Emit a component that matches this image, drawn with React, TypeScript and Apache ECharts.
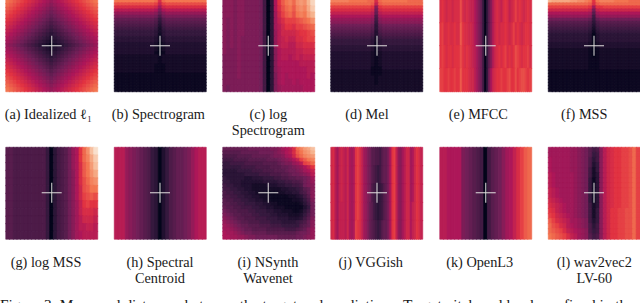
import React, { useEffect, useRef } from "react";
import * as echarts from "echarts";

// Heat levels, one character per cell (0-9 then a-z = level 0..35).
const idealized = [
  "ponmlkjihgfedefghijklmnop","onmlkjihgfedcdefghijklmno","nmlkjihgfedcbcdefghijklmn","mlkjihgfedcbabcdefghijklm",
  "lkjihgfedcba9abcdefghijkl","kjihgfedcba989abcdefghijk","jihgfedcba98789abcdefghij","ihgfedcba9876789abcdefghi",
  "hgfedcba987656789abcdefgh","gfedcba98765456789abcdefg","fedcba9876543456789abcdef","edcba987654323456789abcde",
  "dcba98765432023456789abcd",
  "edcba987654323456789abcde","fedcba9876543456789abcdef","gfedcba98765456789abcdefg","hgfedcba987656789abcdefgh",
  "ihgfedcba9876789abcdefghi","jihgfedcba98789abcdefghij","kjihgfedcba989abcdefghijk","lkjihgfedcba9abcdefghijkl",
  "mlkjihgfedcbabcdefghijklm","nmlkjihgfedcbcdefghijklmn","onmlkjihgfedcdefghijklmno","ponmlkjihgfedefghijklmnop",
];
const spectrogram = [
  "pppppppppppojoppppppppppp","mmmmmmmmmmmlhlmmmmmmmmmmm","jjjjjjjjjjjieijjjjjjjjjjj","gggggggggggfbfggggggggggg",
  "dddddddddddc9cddddddddddd","bbbbbbbbbbba7abbbbbbbbbbb","9999999999985899999999999","8888888888874788888888888",
  "7777777777763677777777777","6666666666652566666666666","5555555555542455555555555","5555555555541455555555555",
  "4444444444431344444444444","4444444444431344444444444","3333333333320233333333333","3333333333320233333333333",
  "3333333333320233333333333","3333333333310133333333333","2222222222221222222222222","2222222222221222222222222",
  "2222222222221222222222222","2222222222211122222222222","2222222222211122222222222","2222222222211122222222222",
  "1111111111111111111111111","1111111111111111111111111","1111111111111111111111111","1111111111111111111111111",
  "1111111111111111111111111","1111111111111111111111111",
];
const logSpectrogram = [
  "cccbccbbbba604fknpqorsrux","cccbccbbbba604fjmopnqrqtw","cccbccbbbba604eilnompqpsu","cbcbccbbbba604ehjlllmnopr",
  "cbcbccbbbba604egikkjllmno","cbcbccbbbba604dgiiiijkklm","cbcbcbbbbba604dghihhjjkll","cbcbcbbbbba604dghhggiijjj",
  "cbbbcbbbbba604cfgggghhiii","bbbbcbbbbba604cfggfghghhh","bbbbcbbbbba604cffffffgggg","bbbbcbbbbba604cefffffffgg",
  "bbbbcbbbbba604befefffffgf","bbbbbbbbbba604befeefeffff","babbbbbbbba604bdeeeeeefff",
];
const mel = [
  "qqqqqpppppoojopppppppoooo","ooooooooooonhnooooooooooo","lllllllllllkcklllllllllll","jjjjjjjjjjjiaijjjjjjjjjjj",
  "hhhhhhhhhhhg9ghhhhhhhhhhh","fffffffffffe7efffffffffff","dddddddddddc6cddddddddddd","cccccccccccb5bccccccccccc",
  "aaaaaaaaaaa949aaaaaaaaaaa","9999999999984899999999999","8888888888873788888888888","7777777777763677777777777",
  "6666666666652566666666666","5555555555542455555555555","5555555555541455555555555","4444444444431344444444444",
  "4444444444431344444444444","3333333333321233333333333","3333333333321233333333333","3333333333321233333333333",
  "3333333333321233333333333","3333333333321233333333333","3333333333311133333333333","2222222222211122222222222",
  "2222222222211122222222222","2222222222221222222222222","2222222222221222222222222","2222222222221222222222222",
  "2222222222222222222222222","2222222222222222222222222",
];
const mfcc = [
  "jkjijjijjjmjijihhfdb95059cgijihjkjhijljkjijkj",
  "kljjkjjkjjnkjjiihfdb95059cgijijjkjijljkjijkkj",
  "klkjkkjkkkmkjkjihgeca6059cgijkjkljkjkmlkjkklj",
  "llkklkklkknkkkjiigeca605bfijkklkklmkkmklmmlkl",
];
const mss = [
  "utttttssrrqpkpqqqqppppooo","ooooooooooonjnooooooooooo","lllllllllllkekkllllllllll","iiiiiiiiiiihahiiiiiiiiiii",
  "fffffffffffe8efffffffffff","dddddddddddc6cddddddddddd","aaaaaaaaaaa959aaaaaaaaaaa","8888888888874788888888888",
  "7777777777763677777777777","6666666666652566666666666","5555555555541455555555555","4444444444430344444444444",
  "4444444444430344444444444","4444444444430344444444444","3333333333320233333333333","3333333333320233333333333",
  "2222222222210122222222222","2222222222210122222222222","2222222222210122222222222","2222222222211122222222222",
  "2222222222211122222222222","2222222222211122222222222","2222222222211122222222222","1111111111111111111111111",
  "1111111111111111111111111","1111111111111111111111111","1111111111111111111111111","1111111111111111111111111",
  "1111111111111111111111111","1111111111111111111111111",
];
const logMss = [
  "88777777777504678adfkorvy","88777777777504678adfkoqtw","88777777777504678adfjnpsv","88777777777504678acfjnprt",
  "88777777777504678acfjmoqr","88777777777504678acfimnpp","88777777777504678acfilmnm","88777777777504678acehklkk",
  "88777777777504678acehjjji","88777777777504678acegiiih","88777777777504678acegghhg","88777777777504678acefgggg",
];
const centroid = ["gggdcba987540357899abdfgg"];
const nsynth = [
  "9999999aaaaaabbcefgjoqstv","8888899999aaaabcdfgjnprsu","7777888899999abbcefimoqrs","666777788888999abcdfhlnpq",
  "5566667777788889abbdeglmo","555556666777788899abcdfhk","444455556667778889aabcefh","4444445555666777889aabcdg",
  "5444443344455566778899abe","5544433333344445566778abd","6554433322223334455667abc","665544332222222233445689c",
  "766554433222111223344679c","776655443322211111223468c","877665544332211111122357b","887766555443322111111246a",
  "988776665544332221111135a","a98877766555443322211246a","ba9887776655544333222357a","cba988777666555444333468b",
  "dcba98877766655544445679c","edcba9988877766655555789c","eedcba99888877777666789bd","feedcbaa9999888888889aabd",
  "ffeeddcbbaaaaaa99999aabcd",
];
const vggish = [
  "ijgehihgifefkljhedba88776899bfklhdcegiiefikjh",
  "ijgehihgifefkljhedba87656899bfklhdcegiiefikjh",
  "ijgehihgifefkljhedba76545689bfklhdcegiiefikjh",
  "ijgehhhgifefkljhedb986545689bfklhdcegiifhikjh",
  "ijgehhhgifeflkjhedb987656899bfklhdcegiifhikjh",
];
const openL3 = ["ggffffba98760689acefhjlno"];
const wav2vec = [
  "eeeeeeddcba867cgijkkllmol","eeeeeeddcba856cgijkkllmol","feeeeeddcba746cgijkkllmol","feeeeeddcba735cgijkkllmol",
  "feeeeeddcba625cgijkkllmol","gfeeeeedcba624cgijkkllmol","gfeeeeedcba514cgijkkllmol","gfeeeeedcba514cgijkkllmol",
  "hgfeeeedcba514cgijkkllmol","hgfeeeedcba514cgijkkllmol","ihgfeeedcba514cgijkkllmol","jihgfeedcba624cgijkkllmol",
  "kjhgfeedcba625cgikkllmmol","lkihgfedcba625cgikkllmmol","nljihgeedcb635cgikkllmmol","omljigfedcb746cgikkllmmol",
  "onmljhgfedc756cgikkllmmol","ponmljhgedc867cgikkllmmol",
];
const panels = [idealized, spectrogram, logSpectrogram, mel, mfcc, mss, logMss, centroid, nsynth, vggish, openL3, wav2vec];

const captions = [
  ["(a) Idealized ℓ₁"], ["(b) Spectrogram"], ["(c) log", "Spectrogram"], ["(d) Mel"], ["(e) MFCC"], ["(f) MSS"],
  ["(g) log MSS"], ["(h) Spectral", "Centroid"], ["(i) NSynth", "Wavenet"], ["(j) VGGish"], ["(k) OpenL3"], ["(l) wav2vec2", "LV-60"],
];
const figureCaption = "Figure 3: Measured distances between the target and predictions. Target pitch and loudness fixed in the";

const rocket = ["#03051a", "#35193e", "#701f57", "#ad1759", "#e13342", "#f37651", "#f6b48f", "#faebdd"];

const LEFT = [6, 114.5, 223, 331, 440, 548.5];
const CROSS_X = [51.7, 160, 268.3, 377, 485.7, 594];
const LABEL_X = [48.3, 158.3, 268.3, 367, 478.3, 584.3, 46, 160, 268, 370.7, 479.7, 594.3];
const TOP = [0, 147.5];
const CROSS_Y = [45.7, 192.7];
const LABEL_Y = [114, 261.7];
const SIZE = 91.5;
const FONT = "'Liberation Serif', serif";

export default function App() {
  const ref = useRef<HTMLDivElement>(null);
  useEffect(() => {
    document.body.style.margin = "0";
    document.body.style.overflow = "hidden";
    const chart = echarts.init(ref.current!, undefined, { renderer: "svg" });
    const grid: any[] = [], xAxis: any[] = [], yAxis: any[] = [], series: any[] = [], graphic: any[] = [];
    panels.forEach((rows, i) => {
      const col = i % 6, row = Math.floor(i / 6);
      const nCols = Math.max(...rows.map((r) => r.length));
      grid.push({ left: LEFT[col], top: TOP[row], width: SIZE, height: SIZE, containLabel: false });
      xAxis.push({ type: "category", gridIndex: i, show: false, data: Array.from({ length: nCols }, (_, k) => k) });
      yAxis.push({ type: "category", gridIndex: i, show: false, inverse: true, data: rows.map((_, k) => k) });
      const data: any[] = [];
      rows.forEach((r, y) => {
        for (let x = 0; x < nCols; x++) {
          const level = parseInt(r[Math.min(x, r.length - 1)], 36);
          const color = echarts.color.lerp(level / 35, rocket);
          data.push({ value: [x, y, level], itemStyle: { borderColor: color, borderWidth: 0.6 } });
        }
      });
      series.push({ type: "heatmap", xAxisIndex: i, yAxisIndex: i, data, silent: true, progressive: 0 });
      const cx = CROSS_X[col], cy = CROSS_Y[row];
      const crossStyle = { stroke: "rgba(226,222,222,0.78)", lineWidth: 1.3 };
      graphic.push({ type: "line", z: 100, shape: { x1: cx - 10, y1: cy, x2: cx + 10, y2: cy }, style: crossStyle });
      graphic.push({ type: "line", z: 100, shape: { x1: cx, y1: cy - 10, x2: cx, y2: cy + 10 }, style: crossStyle });
      captions[i].forEach((line, k) => {
        graphic.push({
          type: "text", z: 100,
          style: { text: line, x: LABEL_X[i], y: LABEL_Y[row] + k * 16, fontSize: 14.3, fontFamily: FONT, fill: "#1a1a1a", align: "center", verticalAlign: "middle" },
        });
      });
    });
    graphic.push({
      type: "text", z: 100,
      style: { text: figureCaption, x: 0, y: 296.5, fontSize: 15.4, fontFamily: FONT, fill: "#1a1a1a", align: "left", verticalAlign: "top" },
    });
    chart.setOption({
      animation: false,
      backgroundColor: "#ffffff",
      grid, xAxis, yAxis, series, graphic,
      visualMap: { show: false, min: 0, max: 35, inRange: { color: rocket }, seriesIndex: panels.map((_, i) => i) },
    });
    return () => chart.dispose();
  }, []);
  return <div ref={ref} style={{ position: "absolute", left: 0, top: 0, width: 640, height: 303 }} />;
}
